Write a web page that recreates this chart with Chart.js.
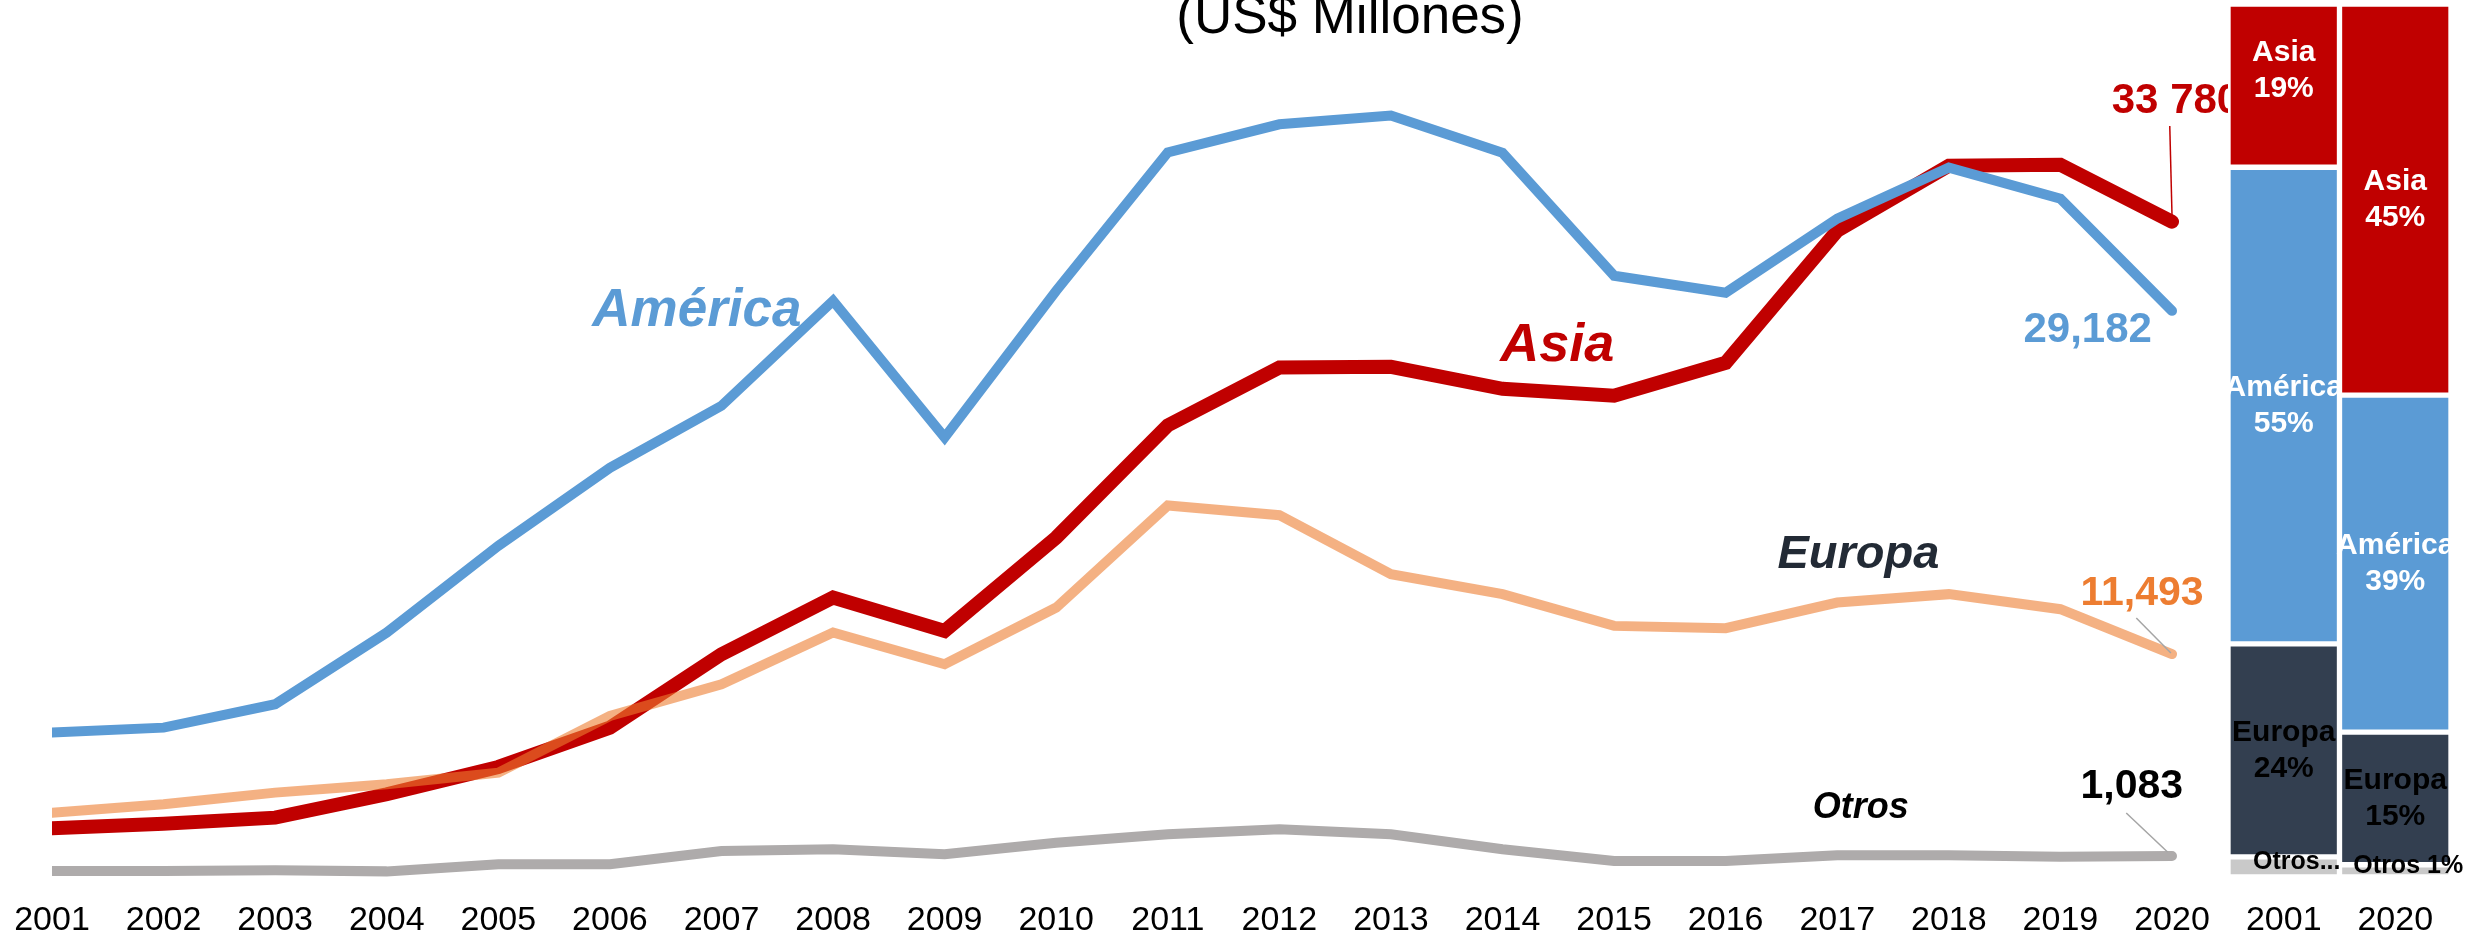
<!doctype html>
<html>
<head>
  <meta charset="utf-8" />
  <title>Exportaciones por destino (US$ Millones)</title>
  <style>
    html, body { margin:0; padding:0; background:#fff; }
    .wrap { position:relative; width:2478px; height:940px; overflow:hidden; }
    canvas { position:absolute; left:0; top:0; }
  </style>
</head>
<body>
  <div class="wrap">
    <canvas id="lines" width="2478" height="940"></canvas>
    <canvas id="bars" width="2478" height="940"></canvas>
  </div>

  <script src="https://cdn.jsdelivr.net/npm/chart.js@4.4.1/dist/chart.umd.min.js"></script>
  <script>
    // --- data (US$ millones) ---
    const years = ['2001','2002','2003','2004','2005','2006','2007','2008','2009','2010',
                   '2011','2012','2013','2014','2015','2016','2017','2018','2019','2020'];
    const america = [7443, 7700, 8906, 12600, 17070, 21093, 24290, 29704, 22656, 30220,
                     37353, 38800, 39250, 37330, 30994, 30117, 33933, 36563, 34964, 29182];
    const asia    = [2511, 2745, 3059, 4263, 5673, 7700, 11483, 14405, 12685, 17498,
                     23280, 26265, 26300, 25166, 24805, 26507, 33314, 36666, 36717, 33780];
    const europa  = [3317, 3750, 4349, 4780, 5380, 8303, 9935, 12600, 10969, 13888,
                     19150, 18650, 15611, 14580, 12944, 12825, 14147, 14580, 13805, 11493];
    const otros   = [309, 309, 345, 290, 653, 653, 1341, 1427, 1170, 1770,
                     2200, 2458, 2200, 1427, 825, 825, 1118, 1118, 1050, 1083];

    // share of total (%) for the two stacked bars
    const barYears = ['2001', '2020'];
    const otrosShare   = [2.3, 1.4];
    const europaShare  = [24.4, 15.2];
    const americaShare = [54.6, 38.6];
    const asiaShare    = [18.7, 44.8];
    const otrosBarLabels = ['Otros...', 'Otros 1%'];

    const BLUE = '#5B9BD5', RED = '#C00000', ORANGE = '#ED7D31';
    const PEACH = 'rgba(237,125,49,0.6)', GRAY = '#AEABAB';
    const DARK = '#333F50', LIGHTGRAY = '#C9C9C9';
    const FONT = '"Liberation Sans", Arial, sans-serif';

    Chart.defaults.font.family = FONT;

    const last = years.length - 1;
    const comma = v => v.toLocaleString('en-US');

    // labels placed in data space: i = year index, v = value (text baseline)
    const lineNotes = [
      { text:'América', i:5.78,  v:28404, color:BLUE,      size:53, style:'italic bold', align:'center' },
      { text:'Asia',    i:13.49, v:26600, color:RED,       size:54, style:'italic bold', align:'center' },
      { text:'Europa',  i:16.19, v:15929, color:'#222A35', size:47, style:'italic bold', align:'center' },
      { text:'Otros',   i:16.21, v:3041,  color:'#000',    size:36, style:'italic bold', align:'center' },
      { text:comma(asia[last]).replace(',', ' '), i:18.46, v:39384, color:RED, size:42, style:'bold', align:'left' },
      { text:comma(america[last]), i:18.82, v:27579, color:BLUE,   size:42, style:'bold', align:'right' },
      { text:comma(europa[last]),  i:18.18, v:14022, color:ORANGE, size:41, style:'bold', align:'left' },
      { text:comma(otros[last]),   i:18.18, v:4072,  color:'#000', size:41, style:'bold', align:'left' }
    ];
    const leaders = [
      { from:[18.98, 38714], to:[19.0, 34126],  color:RED },
      { from:[18.68, 13351], to:[18.99, 11547], color:'#A5A5A5' },
      { from:[18.59, 3299],  to:[18.96, 1289],  color:'#A5A5A5' }
    ];

    const lineNotesPlugin = {
      id: 'lineNotes',
      afterDatasetsDraw(chart) {
        const { ctx, scales: { x, y } } = chart;
        ctx.save();
        for (const l of leaders) {
          ctx.beginPath();
          ctx.strokeStyle = l.color;
          ctx.lineWidth = 1.5;
          ctx.moveTo(x.getPixelForValue(l.from[0]), y.getPixelForValue(l.from[1]));
          ctx.lineTo(x.getPixelForValue(l.to[0]), y.getPixelForValue(l.to[1]));
          ctx.stroke();
        }
        ctx.textBaseline = 'alphabetic';
        for (const n of lineNotes) {
          ctx.font = n.style + ' ' + n.size + 'px ' + FONT;
          ctx.fillStyle = n.color;
          ctx.textAlign = n.align;
          ctx.fillText(n.text, x.getPixelForValue(n.i), y.getPixelForValue(n.v));
        }
        // title, partly cut off at the top as in the source slide
        ctx.font = '53px ' + FONT;
        ctx.fillStyle = '#000';
        ctx.textAlign = 'center';
        ctx.fillText('(US$ Millones)', 1350, 33);
        ctx.restore();
      }
    };

    const barLabelsPlugin = {
      id: 'barLabels',
      afterDatasetsDraw(chart) {
        const { ctx } = chart;
        ctx.save();
        ctx.textAlign = 'center';
        ctx.textBaseline = 'middle';
        chart.data.datasets.forEach((ds, d) => {
          chart.getDatasetMeta(d).data.forEach((el, j) => {
            let cy = (el.y + el.base) / 2;
            if (ds.label === 'Otros') {
              ctx.font = 'bold 25px ' + FONT;
              ctx.fillStyle = '#000';
              ctx.fillText(otrosBarLabels[j], el.x + 13, cy - 5);
              return;
            }
            if (ds.label === 'Asia' && j === 0) cy -= 15;
            ctx.font = 'bold 30px ' + FONT;
            ctx.fillStyle = ds.label === 'Europa' ? '#000' : '#fff';
            ctx.fillText(ds.label, el.x, cy - 18);
            ctx.fillText(Math.round(ds.data[j]) + '%', el.x, cy + 18);
          });
        });
        ctx.restore();
      }
    };

    const xTicks = { font:{ size:34, lineHeight:1 }, color:'#000', padding:27, maxRotation:0, autoSkip:false };
    // keep the plot area exactly where the layout padding puts it
    const fixAxis = s => { s.paddingLeft = 0; s.paddingRight = 0; s.height = 61; };

    new Chart(document.getElementById('lines'), {
      type: 'line',
      data: {
        labels: years,
        datasets: [
          { label:'Europa',  data:europa,  borderColor:PEACH, borderWidth:10, order:0 },
          { label:'América', data:america, borderColor:BLUE,  borderWidth:10, order:1 },
          { label:'Asia',    data:asia,    borderColor:RED,   borderWidth:14, order:2 },
          { label:'Otros',   data:otros,   borderColor:GRAY,  borderWidth:10, order:3 }
        ]
      },
      options: {
        responsive: false,
        animation: false,
        layout: { padding: { left:52, right:306, top:4, bottom:2 } },
        elements: {
          point: { radius:0 },
          line: { tension:0, borderCapStyle:'round', borderJoinStyle:'miter', fill:false }
        },
        datasets: { line: { clip: { left:0, top:20, right:20, bottom:20 } } },
        plugins: { legend:{ display:false }, tooltip:{ enabled:false } },
        scales: {
          x: { offset:false, grid:{ display:false, drawTicks:false }, border:{ display:false }, ticks:xTicks, afterFit:fixAxis },
          y: { display:false, min:0, max:45000 }
        }
      },
      plugins: [lineNotesPlugin]
    });

    new Chart(document.getElementById('bars'), {
      type: 'bar',
      data: {
        labels: barYears,
        datasets: [
          { label:'Otros',   data:otrosShare,   backgroundColor:LIGHTGRAY },
          { label:'Europa',  data:europaShare,  backgroundColor:DARK },
          { label:'América', data:americaShare, backgroundColor:BLUE },
          { label:'Asia',    data:asiaShare,    backgroundColor:RED }
        ]
      },
      options: {
        responsive: false,
        animation: false,
        layout: { padding: { left:2228, right:27, top:4, bottom:2 } },
        datasets: { bar: { barPercentage:1, categoryPercentage:1, borderColor:'#fff', borderWidth:3, borderSkipped:false } },
        plugins: { legend:{ display:false }, tooltip:{ enabled:false } },
        scales: {
          x: { stacked:true, grid:{ display:false, drawTicks:false }, border:{ display:false }, ticks:xTicks, afterFit:fixAxis },
          y: { stacked:true, display:false, min:0, max:100 }
        }
      },
      plugins: [barLabelsPlugin]
    });
  </script>
</body>
</html>
